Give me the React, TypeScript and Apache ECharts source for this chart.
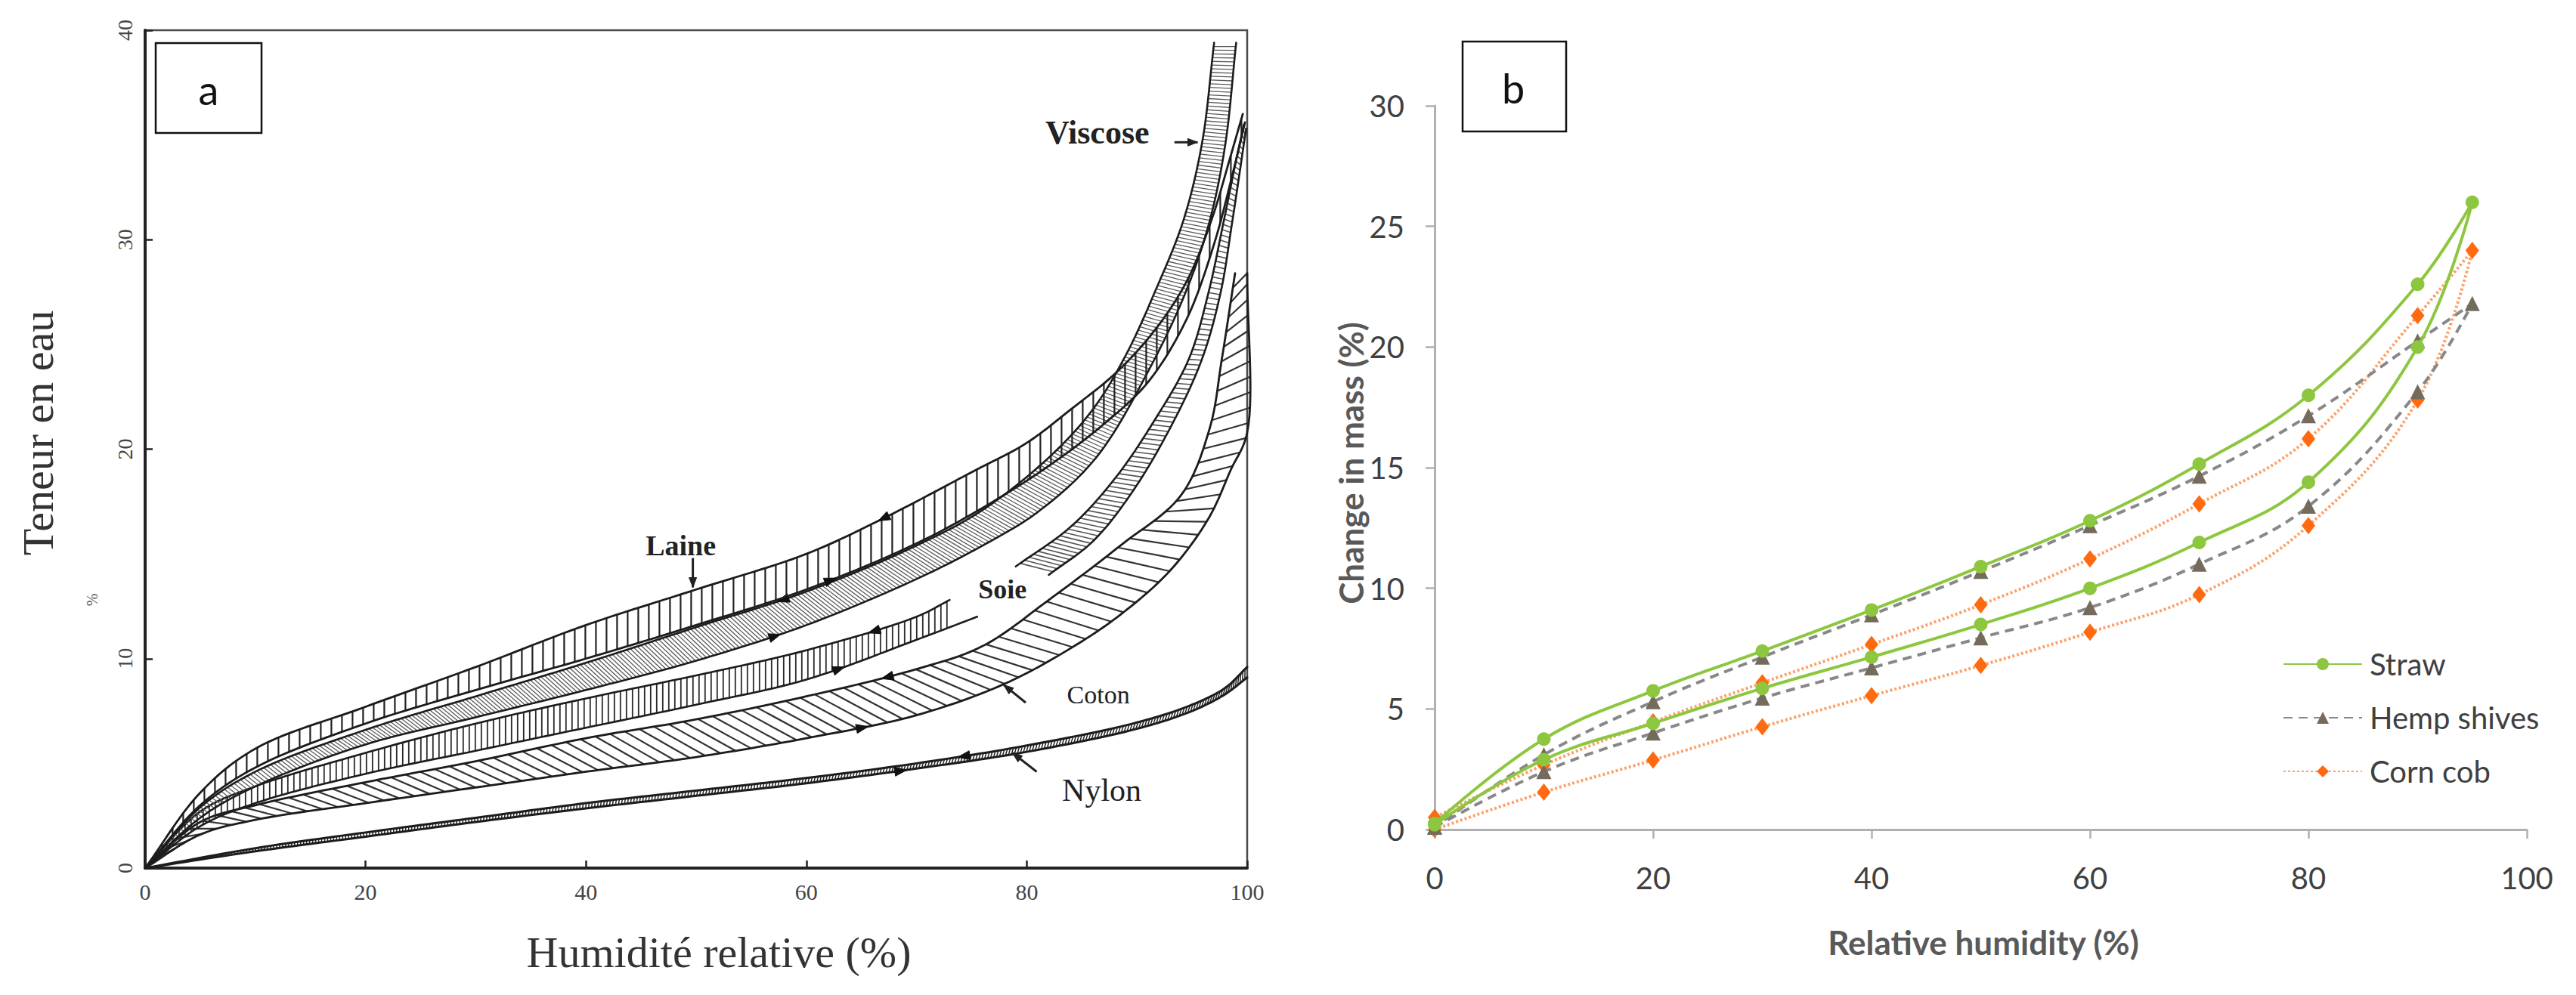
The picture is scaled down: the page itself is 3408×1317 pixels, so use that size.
import React, { useEffect, useRef } from 'react';
import * as echarts from 'echarts';

// ================= Panel a : water content vs relative humidity (hysteresis bands) =================
// [RH %, water content] ; "Des" = desorption (upper edge), "Abs" = absorption (lower edge)
const laineDes = [[0,0],[5,3.6],[10,5.7],[20,7.7],[30,9.6],[40,11.6],[50,13.3],[60,15.0],[67,16.7],[75,18.9],[80,20.3],[84,21.9],[88,23.6],[91.5,25.6],[94.5,28.0],[96.8,31.0],[98.5,34.0],[99.6,36.0]];
const laineAbs = [[0,0],[5,3.0],[10,4.8],[20,6.9],[30,8.5],[40,10.0],[50,11.6],[60,13.3],[70,15.5],[76,17.2],[82,19.2],[87,21.2],[91,23.2],[94.5,26.2],[97,29.8],[98.8,33.4],[99.8,35.6]];
const viscoseDes = [[0,0],[5,2.9],[10,4.6],[20,6.6],[30,8.2],[40,9.8],[50,11.5],[60,13.2],[70,15.4],[76,17.1],[82,19.6],[86,21.9],[89,24.5],[91.7,27.6],[94.2,30.9],[95.9,34.6],[97,39.4]];
const viscoseAbs = [[0,0],[5,2.4],[10,3.9],[20,5.9],[30,7.2],[40,8.5],[50,9.9],[60,11.6],[70,13.8],[76,15.4],[81,17.0],[86.3,19.6],[91.3,24.0],[94.5,27.6],[96.6,30.9],[98,34.5],[99,39.4]];
const soieDes = [[0,0],[5,2.7],[10,3.9],[20,5.5],[30,6.9],[40,8.1],[50,9.2],[60,10.4],[70,12.0],[73,12.8]];
const soieAbs = [[0,0],[5,2.0],[10,3.1],[20,4.5],[30,5.6],[40,6.7],[50,7.8],[60,9.0],[70,10.9],[75.5,12.0]];
const soieDes2 = [[79,14.4],[84,16.3],[88,18.6],[91.5,21.3],[94.7,24.3],[96.5,27.5],[97.8,30.7],[99.0,33.8],[99.7,35.5]];
const soieAbs2 = [[82,14.0],[86,15.6],[89.5,17.9],[93,21.0],[95.9,24.3],[97.6,27.5],[98.6,30.7],[99.4,33.5],[99.9,35.3]];
const cotonDes = [[0,0],[5,2.2],[10,3.0],[20,4.1],[30,5.1],[40,6.2],[50,7.1],[60,8.2],[70,9.5],[76,10.6],[82,12.8],[88.5,15.4],[94,17.8],[96.6,21.0],[97.7,24.3],[98.9,28.4]];
const cotonAbs = [[0,0],[5,1.6],[10,2.3],[20,3.1],[30,3.85],[40,4.6],[50,5.3],[60,6.2],[70,7.3],[78,8.8],[84,10.5],[88.5,12.1],[93,14.2],[96.5,16.7],[98.5,19.0],[100,20.8],[100,28.4]];
const nylonDes = [[0,0],[10,0.95],[20,1.7],[30,2.4],[40,3.1],[50,3.7],[60,4.3],[70,5.0],[80,5.85],[90,6.95],[95,7.8],[98,8.6],[100,9.6]];
const nylonAbs = [[0,0],[10,0.8],[20,1.5],[30,2.2],[40,2.85],[50,3.45],[60,4.05],[70,4.75],[80,5.55],[90,6.65],[95,7.5],[98,8.3],[100,9.1]];

// flow-direction arrowheads: RH positions on [desorption, absorption] edges
const laineArrowX = [66.8, 61.9];
const viscoseArrowX = [57.9, 57.2];
const soieArrowX = [65.8, 62.8];
const cotonArrowX = [67.2, 65];
const nylonArrowX = [74, 68.7];

// fibre labels and their pointers (data coordinates)
const fibreLabels = ['Viscose', 'Laine', 'Soie', 'Coton', 'Nylon'];
const fibreLabelPos = [[86.4, 35.1], [48.6, 15.4], [77.8, 13.3], [86.5, 8.26], [86.8, 3.7]];
const fibrePointers = [
  [[93.4, 34.65], [95.5, 34.65]],
  [[49.7, 14.8], [49.7, 13.4]],
  [[79.9, 7.9], [77.9, 8.75]],
  [[80.9, 4.6], [78.7, 5.5]],
];

// ================= Panel b : change in mass vs relative humidity =================
const rhAbs = [0, 10, 20, 30, 40, 50, 60, 70, 80, 90, 95];
const rhDes = [90, 80, 70, 60, 50, 40, 30, 20, 10, 0];
const strawAbs = [0.2, 2.9, 4.4, 5.85, 7.15, 8.5, 10.0, 11.9, 14.4, 20.0, 26.0];
const strawDes = [22.6, 18.0, 15.15, 12.8, 10.9, 9.1, 7.4, 5.75, 3.75, 0.25];
const hempAbs = [0.1, 2.4, 4.0, 5.45, 6.7, 7.95, 9.2, 11.0, 13.4, 18.15, 21.8];
const hempDes = [20.25, 17.15, 14.65, 12.6, 10.7, 8.9, 7.15, 5.3, 3.1, 0.1];
const cornAbs = [0, 1.55, 2.88, 4.26, 5.55, 6.8, 8.18, 9.74, 12.6, 17.8, 24.0];
const cornDes = [21.3, 16.2, 13.5, 11.22, 9.32, 7.67, 6.08, 4.46, 2.68, 0.5];

const seriesNames = ['Straw', 'Hemp shives', 'Corn cob'];

function loop(abs: number[], des: number[]) {
  return rhAbs.map((x, i) => [x, abs[i]]).concat(rhDes.map((x, i) => [x, des[i]]));
}

// ---------- geometry helpers (pixel space) ----------
type P = number[];
function catmull(pts: P[], per = 14): P[] {
  const q: P[] = [];
  for (const p of pts) {
    const l = q[q.length - 1];
    if (!l || Math.hypot(p[0] - l[0], p[1] - l[1]) > 0.5) q.push(p);
  }
  if (q.length < 3) return q;
  const n = q.length;
  const ext = (a: P, b: P): P => [2 * a[0] - b[0], 2 * a[1] - b[1]];
  const all = [ext(q[0], q[1]), ...q, ext(q[n - 1], q[n - 2])];
  const dt = (a: P, b: P) => Math.max(1e-3, Math.sqrt(Math.hypot(b[0] - a[0], b[1] - a[1])));
  const out: P[] = [];
  for (let i = 1; i < all.length - 2; i++) {
    const p0 = all[i - 1], p1 = all[i], p2 = all[i + 1], p3 = all[i + 2];
    const t0 = 0, t1 = t0 + dt(p0, p1), t2 = t1 + dt(p1, p2), t3 = t2 + dt(p2, p3);
    for (let k = 0; k < per; k++) {
      const t = t1 + ((t2 - t1) * k) / per;
      const mix = (a: P, b: P, ta: number, tb: number): P => {
        const w = (t - ta) / (tb - ta);
        return [a[0] * (1 - w) + b[0] * w, a[1] * (1 - w) + b[1] * w];
      };
      const A1 = mix(p0, p1, t0, t1), A2 = mix(p1, p2, t1, t2), A3 = mix(p2, p3, t2, t3);
      const B1 = mix(A1, A2, t0, t2), B2 = mix(A2, A3, t1, t3);
      out.push(mix(B1, B2, t1, t2));
    }
  }
  out.push(q[n - 1]);
  return out;
}
function cumLen(pts: P[]) {
  const c = [0];
  for (let i = 1; i < pts.length; i++) c.push(c[i - 1] + Math.hypot(pts[i][0] - pts[i - 1][0], pts[i][1] - pts[i - 1][1]));
  return c;
}
function pointAt(pts: P[], c: number[], s: number): P {
  const L = c[c.length - 1];
  s = Math.max(0, Math.min(L, s));
  let i = 1;
  while (i < c.length - 1 && c[i] < s) i++;
  const seg = c[i] - c[i - 1] || 1;
  const w = (s - c[i - 1]) / seg;
  return [pts[i - 1][0] + (pts[i][0] - pts[i - 1][0]) * w, pts[i - 1][1] + (pts[i][1] - pts[i - 1][1]) * w];
}
function yAtX(pts: P[], x: number): number | null {
  for (let i = 1; i < pts.length; i++) {
    const a = pts[i - 1], b = pts[i];
    if ((a[0] <= x && b[0] >= x) || (a[0] >= x && b[0] <= x)) {
      const d = b[0] - a[0];
      if (Math.abs(d) < 1e-6) return a[1];
      return a[1] + ((b[1] - a[1]) * (x - a[0])) / d;
    }
  }
  return null;
}
function arrowHead(tip: P, from: P, len: number, half: number, color: string) {
  const dx = tip[0] - from[0], dy = tip[1] - from[1];
  const d = Math.hypot(dx, dy) || 1;
  const ux = dx / d, uy = dy / d;
  const bx = tip[0] - ux * len, by = tip[1] - uy * len;
  return {
    type: 'polygon',
    shape: { points: [tip, [bx - uy * half, by + ux * half], [bx + uy * half, by - ux * half]] },
    style: { fill: color, stroke: color, lineWidth: 1 },
  };
}

type BandStyle = { mode: 'vertical' | 'along'; spacing: number; offset: number; hatch: string; hatchWidth: number; edgeWidth: number };

function bandSeries(des: number[][], abs: number[][], arrows: number[] | null, st: BandStyle) {
  return {
    type: 'custom',
    coordinateSystem: 'cartesian2d',
    xAxisIndex: 0,
    yAxisIndex: 0,
    silent: true,
    data: [[des[des.length - 1][0], des[des.length - 1][1]]],
    renderItem: (_params: any, api: any) => {
      const U = catmull(des.map((p) => api.coord(p)));
      const L = catmull(abs.map((p) => api.coord(p)));
      const children: any[] = [];
      const hatchStyle = { stroke: st.hatch, lineWidth: st.hatchWidth };
      if (st.spacing > 0 && st.mode === 'vertical') {
        const x0 = Math.max(U[0][0], L[0][0]);
        const x1 = Math.min(U[U.length - 1][0], L[L.length - 1][0]);
        for (let x = x0 + st.spacing * 0.6; x < x1; x += st.spacing) {
          const yu = yAtX(U, x), yl = yAtX(L, x);
          if (yu == null || yl == null) continue;
          children.push({ type: 'line', shape: { x1: x, y1: yl, x2: x, y2: yu }, style: hatchStyle });
        }
      } else if (st.spacing > 0) {
        const cu = cumLen(U), cl = cumLen(L);
        const lu = cu[cu.length - 1], ll = cl[cl.length - 1];
        const len = (lu + ll) / 2;
        const n = Math.floor(len / st.spacing);
        for (let i = 1; i < n; i++) {
          const f = i / n;
          const fl = Math.min(1, f + st.offset / len);
          const a = pointAt(U, cu, f * lu);
          const b = pointAt(L, cl, fl * ll);
          children.push({ type: 'line', shape: { x1: a[0], y1: a[1], x2: b[0], y2: b[1] }, style: hatchStyle });
        }
      }
      const edge = { stroke: '#1c1c1c', lineWidth: st.edgeWidth, fill: null, lineJoin: 'round', lineCap: 'round' };
      children.push({ type: 'polyline', shape: { points: U }, style: edge });
      children.push({ type: 'polyline', shape: { points: L }, style: edge });
      if (arrows) {
        arrows.forEach((ax, k) => {
          const curve = k === 0 ? U : L;
          const px = api.coord([ax, 0])[0];
          let best = 1;
          for (let i = 1; i < curve.length - 1; i++) if (Math.abs(curve[i][0] - px) < Math.abs(curve[best][0] - px)) best = i;
          const prev = curve[Math.max(0, best - 2)], next = curve[Math.min(curve.length - 1, best + 2)];
          const p = curve[best];
          const dir = k === 0 ? [prev[0] - next[0], prev[1] - next[1]] : [next[0] - prev[0], next[1] - prev[1]];
          const d = Math.hypot(dir[0], dir[1]) || 1;
          const tip = [p[0] + (dir[0] / d) * 8, p[1] + (dir[1] / d) * 8];
          children.push(arrowHead(tip, p, 16, 6, '#111'));
        });
      }
      return { type: 'group', children };
    },
  };
}

const labelFonts = [
  { size: 44, weight: 'bold' },
  { size: 38, weight: 'bold' },
  { size: 36, weight: 'bold' },
  { size: 34, weight: 'normal' },
  { size: 42, weight: 'normal' },
];

const annotationSeries = {
  type: 'custom',
  coordinateSystem: 'cartesian2d',
  xAxisIndex: 0,
  yAxisIndex: 0,
  silent: true,
  data: [[50, 20]],
  z: 5,
  renderItem: (_params: any, api: any) => {
    const children: any[] = [];
    fibreLabels.forEach((t, i) => {
      const p = api.coord(fibreLabelPos[i]);
      children.push({
        type: 'text',
        x: p[0],
        y: p[1],
        style: {
          text: t,
          fill: '#222',
          fontFamily: 'Liberation Serif',
          fontSize: labelFonts[i].size,
          fontWeight: labelFonts[i].weight,
          align: 'center',
          verticalAlign: 'middle',
        },
      });
    });
    fibrePointers.forEach((seg) => {
      const a = api.coord(seg[0]), b = api.coord(seg[1]);
      children.push({ type: 'line', shape: { x1: a[0], y1: a[1], x2: b[0], y2: b[1] }, style: { stroke: '#222', lineWidth: 3 } });
      children.push(arrowHead(b, a, 13, 5, '#222'));
    });
    return { type: 'group', children };
  },
};

function buildOption() {
  const serifAxisLabel = { fontFamily: 'Liberation Serif', fontSize: 30, color: '#444' };
  const bAxisLabel = { fontFamily: 'Lato', fontSize: 40, color: '#404040' };
  const bLine = { show: true, lineStyle: { color: '#B0B0B0', width: 3 } };
  const bTick = { show: true, length: 12, lineStyle: { color: '#B0B0B0', width: 2.5 } };
  return {
    animation: false,
    backgroundColor: '#ffffff',
    grid: [
      { left: 192, top: 40, width: 1458, height: 1109, show: true, borderColor: '#4a4a4a', borderWidth: 2.5, backgroundColor: 'transparent' },
      { left: 1898, top: 140, width: 1445, height: 958 },
    ],
    xAxis: [
      {
        gridIndex: 0, type: 'value', min: 0, max: 100, interval: 20,
        axisLine: { show: true, lineStyle: { color: '#222', width: 4 } },
        axisTick: { show: true, inside: true, length: 10, lineStyle: { color: '#222', width: 2.5 } },
        axisLabel: { ...serifAxisLabel, margin: 16 },
        splitLine: { show: false },
      },
      {
        gridIndex: 1, type: 'value', min: 0, max: 100, interval: 20,
        axisLine: bLine, axisTick: bTick,
        axisLabel: { ...bAxisLabel, margin: 44 },
        splitLine: { show: false },
      },
    ],
    yAxis: [
      {
        gridIndex: 0, type: 'value', min: 0, max: 40, interval: 10,
        axisLine: { show: true, lineStyle: { color: '#222', width: 4 } },
        axisTick: { show: true, inside: true, length: 10, lineStyle: { color: '#222', width: 2.5 } },
        axisLabel: { ...serifAxisLabel, fontSize: 28, rotate: 90, margin: 13 },
        splitLine: { show: false },
      },
      {
        gridIndex: 1, type: 'value', min: 0, max: 30, interval: 5,
        axisLine: bLine, axisTick: bTick,
        axisLabel: { ...bAxisLabel, margin: 40 },
        splitLine: { show: false },
      },
    ],
    legend: {
      data: seriesNames,
      orient: 'vertical',
      left: 3015,
      top: 854,
      itemWidth: 104,
      itemHeight: 20,
      itemGap: 31,
      textStyle: { ...bAxisLabel, lineHeight: 40, padding: [0, 0, 0, 5] },
    },
    series: [
      bandSeries(cotonDes, cotonAbs, cotonArrowX, { mode: 'along', spacing: 20, offset: 26, hatch: '#333', hatchWidth: 2.2, edgeWidth: 2.8 }),
      bandSeries(soieDes, soieAbs, soieArrowX, { mode: 'vertical', spacing: 8, offset: 0, hatch: '#2a2a2a', hatchWidth: 1.8, edgeWidth: 2.6 }),
      bandSeries(soieDes2, soieAbs2, null, { mode: 'along', spacing: 7, offset: 0, hatch: '#555', hatchWidth: 1.6, edgeWidth: 2.6 }),
      bandSeries(viscoseDes, viscoseAbs, viscoseArrowX, { mode: 'along', spacing: 5, offset: 0, hatch: '#5a5a5a', hatchWidth: 1.3, edgeWidth: 2.6 }),
      bandSeries(laineDes, laineAbs, laineArrowX, { mode: 'vertical', spacing: 14, offset: 0, hatch: '#222', hatchWidth: 2.2, edgeWidth: 2.8 }),
      bandSeries(nylonDes, nylonAbs, nylonArrowX, { mode: 'along', spacing: 4, offset: 0, hatch: '#222', hatchWidth: 1.5, edgeWidth: 3 }),
      annotationSeries,
      {
        name: 'Corn cob', type: 'line', xAxisIndex: 1, yAxisIndex: 1,
        data: loop(cornAbs, cornDes), smooth: 0.4,
        symbol: 'diamond', symbolSize: [18, 23],
        lineStyle: { color: '#FBA26A', width: 4, type: [3, 3] },
        itemStyle: { color: '#FF6A10' },
        z: 3,
      },
      {
        name: 'Hemp shives', type: 'line', xAxisIndex: 1, yAxisIndex: 1,
        data: loop(hempAbs, hempDes), smooth: 0.4,
        symbol: 'triangle', symbolSize: 20,
        lineStyle: { color: '#888888', width: 4, type: [12, 8] },
        itemStyle: { color: '#756B5D' },
        z: 4,
      },
      {
        name: 'Straw', type: 'line', xAxisIndex: 1, yAxisIndex: 1,
        data: loop(strawAbs, strawDes), smooth: 0.4,
        symbol: 'circle', symbolSize: 18,
        lineStyle: { color: '#8DC63F', width: 4 },
        itemStyle: { color: '#8DC63F' },
        z: 5,
      },
    ],
    graphic: [
      { type: 'rect', shape: { x: 206, y: 57, width: 140, height: 119 }, style: { fill: '#fff', stroke: '#111', lineWidth: 2.5 }, z: 100 },
      { type: 'text', x: 276, y: 118, style: { text: 'a', fontFamily: 'Lato', fontSize: 54, fill: '#111', align: 'center', verticalAlign: 'middle' }, z: 101 },
      { type: 'rect', shape: { x: 1935, y: 55, width: 137, height: 119 }, style: { fill: '#fff', stroke: '#111', lineWidth: 2.5 }, z: 100 },
      { type: 'text', x: 2002, y: 116, style: { text: 'b', fontFamily: 'Lato', fontSize: 54, fill: '#111', align: 'center', verticalAlign: 'middle' }, z: 101 },
      { type: 'text', x: 50, y: 573, rotation: Math.PI / 2, style: { text: 'Teneur en eau', fontFamily: 'Liberation Serif', fontSize: 58, fill: '#333', align: 'center', verticalAlign: 'middle' } },
      { type: 'text', x: 122, y: 794, rotation: Math.PI / 2, style: { text: '%', fontFamily: 'Liberation Serif', fontSize: 20, fill: '#555', align: 'center', verticalAlign: 'middle' } },
      { type: 'text', x: 951, y: 1260, style: { text: 'Humidité relative (%)', fontFamily: 'Liberation Serif', fontSize: 58, fill: '#333', align: 'center', verticalAlign: 'middle' } },
      { type: 'text', x: 1787, y: 613, rotation: Math.PI / 2, style: { text: 'Change in mass (%)', fontFamily: 'Lato', fontWeight: 'bold', fontSize: 44, fill: '#595959', align: 'center', verticalAlign: 'middle' } },
      { type: 'text', x: 2624, y: 1247, style: { text: 'Relative humidity (%)', fontFamily: 'Lato', fontWeight: 'bold', fontSize: 44, fill: '#595959', align: 'center', verticalAlign: 'middle' } },
    ],
  };
}

export default function App() {
  const ref = useRef<HTMLDivElement>(null);
  useEffect(() => {
    if (!ref.current) return;
    const chart = echarts.init(ref.current, null, { renderer: 'svg' });
    chart.setOption(buildOption() as any);
    return () => chart.dispose();
  }, []);
  return <div ref={ref} style={{ position: 'fixed', left: 0, top: 0, width: 3408, height: 1317, background: '#fff' }} />;
}
